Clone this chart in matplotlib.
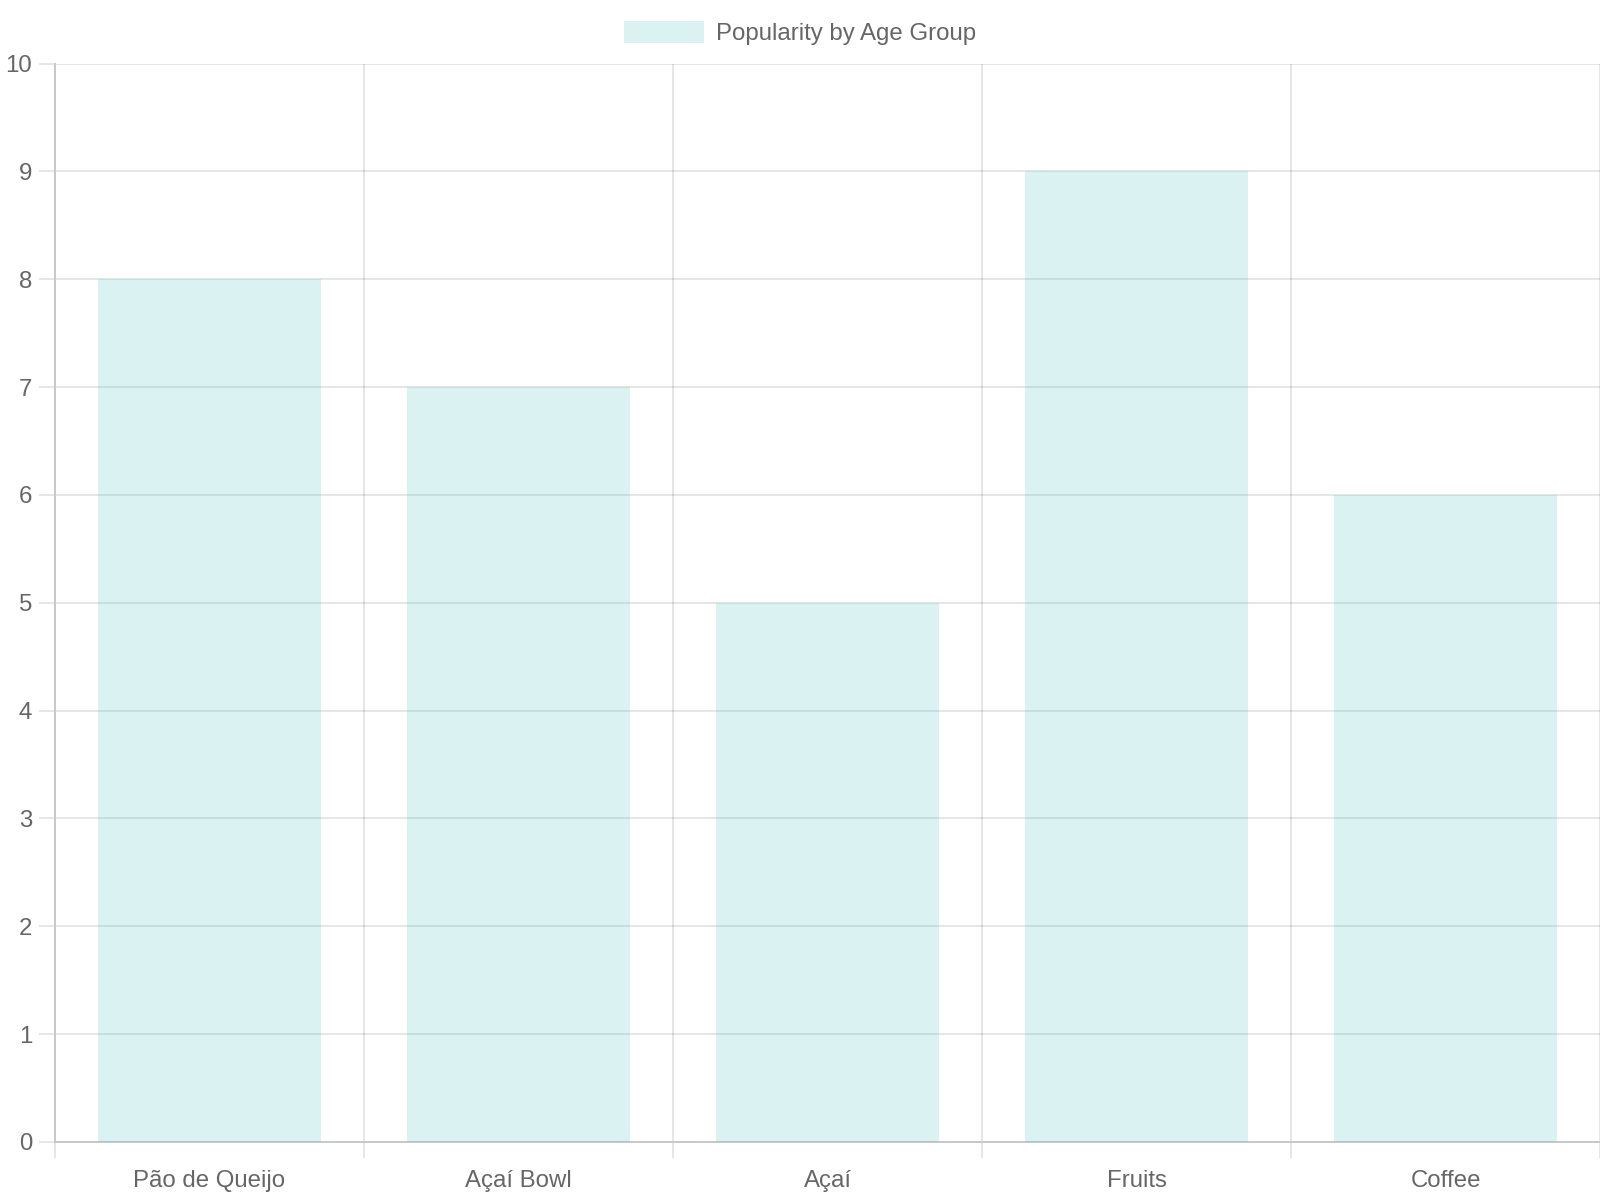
import matplotlib.pyplot as plt
import matplotlib.patches as mpatches
import numpy as np

plt.rcParams['font.family'] = ['Liberation Sans', 'DejaVu Sans']

categories = ['Pão de Queijo', 'Açaí Bowl', 'Açaí', 'Fruits', 'Coffee']
popularity = [8, 7, 5, 9, 6]
series_name = 'Popularity by Age Group'

text_col = '#666666'
grid_col = (0, 0, 0, 0.1)
bar_col = (75/255, 192/255, 192/255, 0.2)

fig = plt.figure(figsize=(16, 12), dpi=100)
ax = fig.add_axes([55/1600, 58/1200, 1545/1600, 1078.5/1200])

x = np.arange(len(categories))
ax.bar(x, popularity, width=0.72, color=bar_col, zorder=3)

ax.set_xlim(-0.5, len(categories) - 0.5)
ax.set_ylim(0, 10)
ax.set_yticks(range(0, 11))

# labels at centres, tick marks and grid at category boundaries
ax.set_xticks(x)
ax.set_xticklabels(categories)
ax.set_xticks(np.arange(len(categories) + 1) - 0.5, minor=True)
ax.tick_params(axis='x', which='major', length=0, pad=20, labelsize=17.3, labelcolor=text_col)
ax.tick_params(axis='x', which='minor', length=11.5, width=1.4, color=grid_col)
ax.tick_params(axis='y', length=11.5, width=1.4, color=grid_col, pad=5,
               labelsize=17.3, labelcolor=text_col)

ax.grid(True, axis='y', color='black', alpha=0.1, linewidth=1.4, zorder=1)
ax.grid(True, axis='x', which='minor', color='black', alpha=0.1, linewidth=1.4, zorder=1)
ax.set_axisbelow(True)

for side in ['top', 'right']:
    ax.spines[side].set_visible(False)
for side in ['left', 'bottom']:
    ax.spines[side].set_color('#c8c8c8')
    ax.spines[side].set_linewidth(1.4)

handle = mpatches.Patch(facecolor=bar_col, edgecolor='none', label=series_name)
leg = fig.legend(handles=[handle], loc='center', bbox_to_anchor=(0.5, 1 - 33/1200),
                 frameon=False, fontsize=17.3, handlelength=3.33, handleheight=1.0,
                 handletextpad=0.5, borderpad=0)
for t in leg.get_texts():
    t.set_color(text_col)

fig.savefig('out.png', dpi=100)
